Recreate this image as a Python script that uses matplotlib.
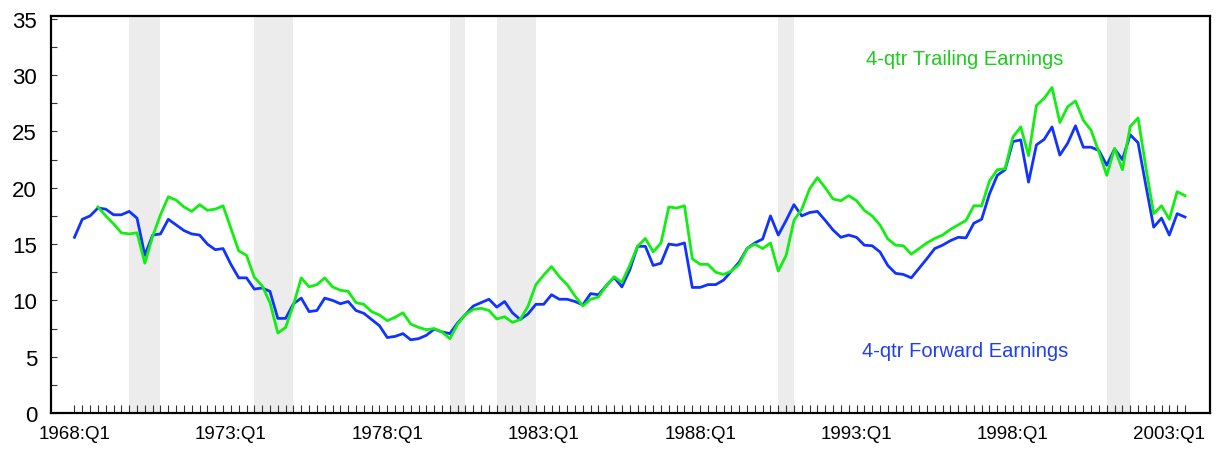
import numpy as np
import matplotlib
matplotlib.use("Agg")
import matplotlib.pyplot as plt
from matplotlib.ticker import FixedLocator, MultipleLocator

plt.rcParams['font.family'] = ['Liberation Sans', 'DejaVu Sans']

# Quarterly dates: 1968:Q1 .. 2003:Q3
start_year = 1968
n_quarters = 143
quarters = [f"{start_year + k // 4}:Q{k % 4 + 1}" for k in range(n_quarters)]

forward_pe = [
    15.6, 17.2, 17.5, 18.2, 18.1, 17.6, 17.6, 17.9, 17.3, 14.0,
    15.8, 15.9, 17.2, 16.7, 16.2, 15.9, 15.8, 15.0, 14.5, 14.6,
    13.2, 12.0, 12.0, 11.0, 11.1, 10.8, 8.4, 8.4, 9.7, 10.2,
    9.0, 9.1, 10.2, 10.0, 9.7, 9.9, 9.1, 8.85, 8.3, 7.75,
    6.7, 6.8, 7.05, 6.5, 6.6, 6.9, 7.45, 7.2, 7.05, 8.0,
    8.75, 9.5, 9.8, 10.1, 9.4, 9.9, 8.9, 8.3, 8.8, 9.65,
    9.65, 10.5, 10.1, 10.1, 9.9, 9.6, 10.6, 10.5, 11.3, 12.05,
    11.2, 12.7, 14.8, 14.8, 13.1, 13.3, 15.0, 14.9, 15.1, 11.15,
    11.15, 11.4, 11.4, 11.8, 12.6, 13.4, 14.6, 15.1, 15.45, 17.5,
    15.8, 17.1, 18.5, 17.5, 17.8, 17.9, 17.1, 16.25, 15.6, 15.8,
    15.6, 14.9, 14.85, 14.3, 13.1, 12.4, 12.3, 12.0, 12.85, 13.7,
    14.6, 14.9, 15.3, 15.6, 15.55, 16.85, 17.2, 19.45, 21.1, 21.6,
    24.1, 24.25, 20.5, 23.8, 24.3, 25.4, 22.9, 23.95, 25.5, 23.6,
    23.6, 23.3, 22.0, 23.45, 22.5, 24.7, 24.0, 20.2, 16.5, 17.3,
    15.8, 17.7, 17.4,
]

trailing_pe = [
    np.nan, np.nan, np.nan, 18.3, 17.5, 16.8, 16.0, 15.9, 16.0, 13.3,
    15.7, 17.6, 19.2, 18.9, 18.3, 17.9, 18.5, 18.0, 18.1, 18.4,
    16.4, 14.4, 14.0, 12.05, 11.3, 9.8, 7.1, 7.6, 9.6, 12.0,
    11.2, 11.4, 12.0, 11.2, 10.9, 10.8, 9.8, 9.65, 9.0, 8.7,
    8.2, 8.5, 8.9, 7.9, 7.6, 7.4, 7.5, 7.2, 6.6, 7.9,
    8.75, 9.2, 9.3, 9.1, 8.35, 8.55, 8.05, 8.3, 9.5, 11.4,
    12.25, 13.0, 12.1, 11.4, 10.4, 9.5, 10.1, 10.3, 11.3, 12.1,
    11.6, 13.1, 14.8, 15.5, 14.3, 15.1, 18.3, 18.2, 18.4, 13.7,
    13.2, 13.2, 12.5, 12.3, 12.6, 13.2, 14.6, 15.0, 14.6, 15.1,
    12.6, 14.0, 17.1, 18.1, 19.9, 20.9, 20.0, 19.0, 18.85, 19.3,
    18.85, 18.0, 17.5, 16.7, 15.45, 14.9, 14.85, 14.1, 14.6, 15.1,
    15.5, 15.8, 16.3, 16.7, 17.1, 18.4, 18.4, 20.6, 21.6, 21.7,
    24.5, 25.4, 22.85, 27.3, 27.95, 28.9, 25.8, 27.2, 27.7, 26.0,
    25.1, 23.15, 21.1, 23.5, 21.6, 25.45, 26.2, 21.8, 17.7, 18.4,
    17.2, 19.65, 19.3,
]

recessions = [
    ("1969:Q4", "1970:Q4"),
    ("1973:Q4", "1975:Q1"),
    ("1980:Q1", "1980:Q3"),
    ("1981:Q3", "1982:Q4"),
    ("1990:Q3", "1991:Q1"),
    ("2001:Q1", "2001:Q4"),
]

tick_labels = ["1968:Q1", "1973:Q1", "1978:Q1", "1983:Q1",
               "1988:Q1", "1993:Q1", "1998:Q1", "2003:Q1"]

x = np.arange(n_quarters)
qidx = {q: i for i, q in enumerate(quarters)}

fig = plt.figure(figsize=(12.27, 4.56), dpi=100)
ax = fig.add_axes([51 / 1227, 42 / 456, (1210 - 51) / 1227, (414 - 17) / 456])

for s, e in recessions:
    ax.axvspan(qidx[s], qidx[e], color='#ececec', lw=0, zorder=0)

ax.plot(x, trailing_pe, color='#11ee11', lw=2.0, zorder=3)
ax.plot(x, forward_pe, color='#1133ff', lw=2.0, zorder=2)

ax.set_xlim(-3, 145.2)
ax.set_ylim(0, 35.25)

ax.xaxis.set_major_locator(FixedLocator([qidx[t] for t in tick_labels]))
ax.set_xticklabels(tick_labels)
ax.xaxis.set_minor_locator(FixedLocator(list(x)))
ax.yaxis.set_major_locator(MultipleLocator(5))
ax.yaxis.set_minor_locator(MultipleLocator(2.5))

ax.tick_params(axis='x', which='both', direction='in', length=5.5, width=0.8,
               color='#333333', labelsize=13.5, pad=9)
ax.tick_params(axis='y', which='both', direction='in', length=4, width=0.8,
               color='#333333', labelsize=16, pad=10)

for sp in ax.spines.values():
    sp.set_linewidth(1.6)
    sp.set_color('black')

ax.text(101.2, 31.0, "4-qtr Trailing Earnings", color='#1ccc1c',
        fontsize=14.5, ha='left', va='baseline')
ax.text(100.7, 5.1, "4-qtr Forward Earnings", color='#1f3ff0',
        fontsize=14.5, ha='left', va='baseline')

fig.savefig("out.png", dpi=100)
